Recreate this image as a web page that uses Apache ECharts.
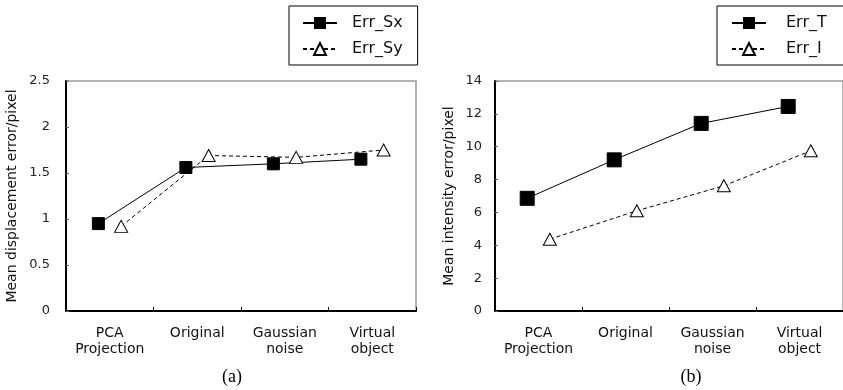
<!DOCTYPE html>
<html>
<head>
<meta charset="utf-8">
<script src="https://cdn.jsdelivr.net/npm/echarts@6/dist/echarts.min.js"></script>
<style>
  html, body { margin: 0; padding: 0; background: #fff; }
  #chart { width: 843px; height: 390px; }
</style>
</head>
<body>
<div id="chart"></div>
<script>
// categories shared by both panels
const categories = ['PCA\nProjection', 'Original', 'Gaussian\nnoise', 'Virtual\nobject'];

// panel (a): displacement error
const errSx = [0.95, 1.56, 1.60, 1.65];
const errSy = [0.92, 1.69, 1.67, 1.75];

// panel (b): intensity error
const errT = [6.86, 9.20, 11.42, 12.45];
const errI = [4.37, 6.10, 7.62, 9.75];

// the two series sit a little left / right of the category centre
const shift = 0.13;
function toPoints(values, side) {
  return values.map((v, i) => [i + 0.5 + side * shift, v]);
}

const labelFont = 'DejaVu Sans';

function catAxis(grid) {
  return {
    type: 'category',
    gridIndex: grid,
    data: categories,
    boundaryGap: true,
    axisLine: { lineStyle: { color: '#000', width: 2 } },
    axisTick: { show: true, inside: true, length: 4, lineStyle: { color: '#000', width: 1 } },
    axisLabel: { color: '#111', fontFamily: labelFont, fontSize: 14, lineHeight: 16, margin: 14, interval: 0 },
    splitLine: { show: false }
  };
}

function valAxisX(grid) {
  return { type: 'value', gridIndex: grid, min: 0, max: 4, show: false };
}

function yAxis(grid, max, step, name, gap, margin) {
  return {
    type: 'value',
    gridIndex: grid,
    min: 0, max: max, interval: step,
    name: name,
    nameLocation: 'middle',
    nameGap: gap,
    nameTextStyle: { color: '#111', fontFamily: labelFont, fontSize: 14 },
    axisLine: { show: true, lineStyle: { color: '#000', width: 2 } },
    axisTick: { show: true, inside: true, length: 3, lineStyle: { color: '#666' } },
    axisLabel: { color: '#222', fontFamily: labelFont, fontSize: 13, margin: margin },
    splitLine: { show: false }
  };
}

function squareSeries(name, data, xi, yi, size) {
  return {
    name: name, type: 'line', xAxisIndex: xi, yAxisIndex: yi,
    data: data, symbol: 'rect', symbolSize: size,
    itemStyle: { color: '#000', borderColor: '#000' },
    lineStyle: { color: '#000', width: 1, type: 'solid' },
    animation: false
  };
}

function triSeries(name, data, xi, yi) {
  return {
    name: name, type: 'line', xAxisIndex: xi, yAxisIndex: yi,
    data: data, symbol: 'triangle', symbolSize: [13, 12],
    itemStyle: { color: '#fff', borderColor: '#000', borderWidth: 1 },
    lineStyle: { color: '#000', width: 1, type: [4, 3] },
    animation: false
  };
}

function legend(names, left, textPad, pad) {
  return {
    data: names,
    orient: 'vertical',
    left: left,
    top: 6,
    padding: pad,
    itemWidth: 34,
    itemHeight: 15,
    itemGap: 10,
    borderColor: '#000',
    borderWidth: 1,
    backgroundColor: '#fff',
    selectedMode: false,
    textStyle: { color: '#111', fontFamily: labelFont, fontSize: 16, lineHeight: 16, padding: textPad }
  };
}

const option = {
  backgroundColor: '#fff',
  animation: false,
  grid: [
    { left: 66, top: 81, width: 350, height: 230, show: true, borderColor: '#999', borderWidth: 1.5, backgroundColor: 'transparent' },
    { left: 495, top: 81, width: 352, height: 230, show: true, borderColor: '#999', borderWidth: 1.5, backgroundColor: 'transparent' }
  ],
  xAxis: [catAxis(0), valAxisX(0), catAxis(1), valAxisX(1)],
  yAxis: [
    yAxis(0, 2.5, 0.5, 'Mean displacement error/pixel', 47, 16),
    yAxis(1, 14, 2, 'Mean intensity error/pixel', 39, 13)
  ],
  legend: [
    legend(['Err_Sx', 'Err_Sy'], 289, [0, 0, 0, 10], [9, 15, 8, 13]),
    legend(['Err_T', 'Err_I'], 717, [0, 6, 0, 15], [9, 17, 8, 14])
  ],
  series: [
    squareSeries('Err_Sx', toPoints(errSx, -1), 1, 0, 12),
    triSeries('Err_Sy', toPoints(errSy, 1), 1, 0),
    squareSeries('Err_T', toPoints(errT, -1), 3, 1, 14),
    triSeries('Err_I', toPoints(errI, 1), 3, 1)
  ],
  graphic: [
    { type: 'text', x: 232, y: 377, style: { text: '(a)', fill: '#000', font: '18px "Liberation Serif"', align: 'center', verticalAlign: 'middle' } },
    { type: 'text', x: 691, y: 377, style: { text: '(b)', fill: '#000', font: '18px "Liberation Serif"', align: 'center', verticalAlign: 'middle' } }
  ]
};

const myChart = echarts.init(document.getElementById('chart'), null, { renderer: 'canvas' });
myChart.setOption(option);
window.addEventListener('resize', function () {
  myChart.resize();
});
</script>
</body>
</html>
